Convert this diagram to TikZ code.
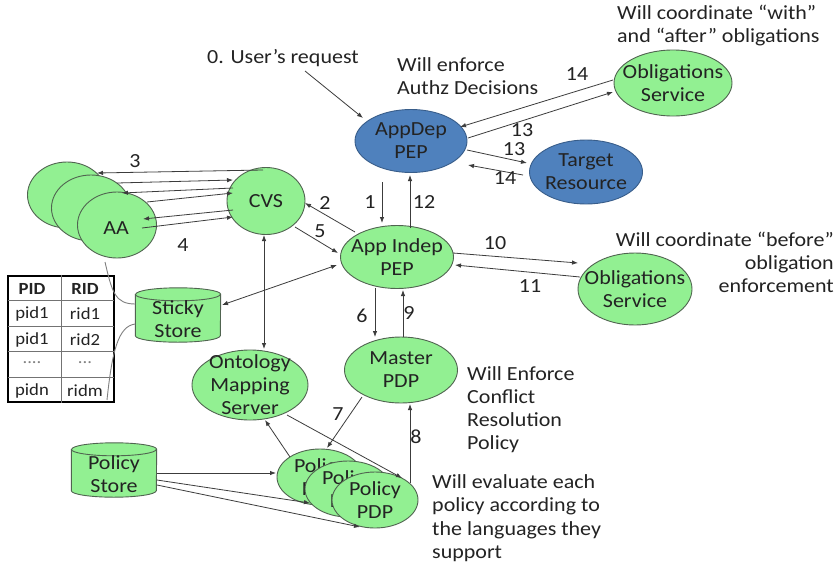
\documentclass[tikz,border=0pt]{standalone}
\usepackage{fontspec}
\setmainfont{Carlito}[FakeStretch=1.1]
\usetikzlibrary{shapes.geometric,arrows.meta,calc}
\definecolor{gfill}{RGB}{146,240,146}
\definecolor{gdraw}{RGB}{80,100,80}
\definecolor{bfill}{RGB}{79,129,189}
\definecolor{bdraw}{RGB}{56,93,138}
\definecolor{lineclr}{RGB}{60,60,60}
\definecolor{txtclr}{RGB}{35,35,35}
\newcommand\drawcyl[1]{%
  \draw[cylst] ($(#1.north west)+(0,6.5)$) -- ($(#1.south west)+(0,-6.5)$)
    arc[start angle=180,end angle=360,x radius=42.5pt,y radius=6.5pt]
    -- ($(#1.north east)+(0,6.5)$)
    arc[start angle=0,end angle=180,x radius=42.5pt,y radius=6.5pt] -- cycle;
  \draw[cylst,fill=none] ($(#1.north west)+(0,6.5)$)
    arc[start angle=180,end angle=360,x radius=42.5pt,y radius=6.5pt];}
\begin{document}
\begin{tikzpicture}[x=1pt,y=-1pt,
  every node/.style={text=txtclr},
  base/.style={font=\fontsize{20}{23}\selectfont},
  gnode/.style={ellipse, fill=gfill, draw=gdraw, line width=0.9pt, inner sep=0pt},
  bnode/.style={ellipse, fill=bfill, draw=bdraw, line width=0.9pt, inner sep=0pt},
  lbl/.style={base, align=center, inner sep=0pt},
  arr/.style={draw=lineclr, line width=0.8pt, -{Latex[length=6pt,width=4.5pt]}},
  darr/.style={draw=lineclr, line width=0.8pt, {Latex[length=6pt,width=4.5pt]}-{Latex[length=6pt,width=4.5pt]}},
  num/.style={base, inner sep=0pt},
  note/.style={base, inner sep=0pt},
  cylst/.style={fill=gfill, draw=gdraw, line width=0.9pt},
  cylbox/.style={inner sep=0pt, minimum width=85pt, minimum height=54pt},
  tline/.style={draw=black!55, line width=0.8pt},
  ttxt/.style={font=\fontsize{17}{20}\selectfont, inner sep=0pt},
  curve/.style={draw=black!50, line width=0.9pt},
]
\useasboundingbox (0,0) rectangle (837,565);
\fill[white] (0,0) rectangle (837,565);

% ---------- AA stack ----------
\node[gnode, minimum width=79pt, minimum height=66pt] (aa3) at (67,195) {};
\node[gnode, minimum width=79pt, minimum height=66pt] (aa2) at (91,208) {};
\node[gnode, minimum width=79pt, minimum height=66pt] (aa) at (117,225) {};
\node[lbl] (aat) at (116,228) {AA};

% ---------- main nodes ----------
\node[gnode, minimum width=78pt, minimum height=67pt] (cvs) at (266,201) {};
\node[lbl] (cvst) at (cvs) {CVS};
\node[bnode, minimum width=112pt, minimum height=63pt] (appdep) at (411,141) {};
\node[lbl] (appdept) at (appdep) {AppDep\\PEP};
\node[bnode, minimum width=113pt, minimum height=64pt] (target) at (586,172) {};
\node[lbl] (targett) at (target) {Target\\Resource};
\node[gnode, minimum width=118pt, minimum height=66pt] (obl1) at (673,83) {};
\node[lbl] (obl1t) at (obl1) {Obligations\\Service};
\node[gnode, minimum width=113pt, minimum height=63pt] (appindep) at (397,257) {};
\node[lbl] (appindept) at (appindep) {App Indep\\PEP};
\node[gnode, minimum width=114pt, minimum height=72pt] (obl2) at (635,289) {};
\node[lbl] (obl2t) at (obl2) {Obligations\\Service};
\node[gnode, minimum width=116pt, minimum height=70pt] (onto) at (250,385) {};
\node[lbl] (ontot) at (onto) {Ontology\\Mapping\\Server};
\node[gnode, minimum width=113pt, minimum height=66pt] (master) at (401,370) {};
\node[lbl] (mastert) at (master) {Master\\PDP};

% ---------- policy PDP stack ----------
\node[gnode, minimum width=86pt, minimum height=56pt] (pdp1) at (320,477) {};
\node[lbl] (pdp1t) at (pdp1) {Policy\\PDP};
\node[gnode, minimum width=86pt, minimum height=56pt] (pdp2) at (348,489) {};
\node[lbl] (pdp2t) at (pdp2) {Policy\\PDP};
\node[gnode, minimum width=86pt, minimum height=56pt] (pdp3) at (375,500) {};
\node[lbl] (pdp3t) at (pdp3) {Policy\\PDP};

% ---------- stores ----------
\node[cylbox] (sticky) at (178,315) {};
\drawcyl{sticky}
\node[lbl] (stickyt) at (178,319) {Sticky\\Store};
\node[cylbox] (pstore) at (114,470) {};
\drawcyl{pstore}
\node[lbl] (pstoret) at (114,474) {Policy\\Store};

% ---------- table ----------
\node[draw=black, line width=2.6pt, minimum width=106pt, minimum height=126pt, inner sep=0pt] (tbl) at (61,339) {};
\draw[tline] (tbl.north) -- (tbl.south);
\foreach \r in {26,51.5,77,102.5}{
  \draw[tline] ($(tbl.north west)+(1,\r)$) -- ($(tbl.north east)+(-1,\r)$);}
\node[ttxt, font=\fontsize{17}{20}\selectfont\bfseries] (h1) at (32,289) {PID};
\node[ttxt, font=\fontsize{17}{20}\selectfont\bfseries] (h2) at (85,289) {RID};
\node[ttxt] (r1a) at (32,314) {pid1};
\node[ttxt] (r1b) at (85,314) {rid1};
\node[ttxt] (r2a) at (32,340) {pid1};
\node[ttxt] (r2b) at (85,340) {rid2};
\node[ttxt, text=black!50] (r3a) at (32,363) {....};
\node[ttxt, text=black!50] (r3b) at (85,363) {...};
\node[ttxt] (r4a) at (32,391) {pidn};
\node[ttxt] (r4b) at (85,391) {ridm};

\coordinate (c1) at (105,262);
\coordinate (c2) at (107,400);
\draw[curve] (c1) .. controls (112,292) and (115,304) .. ($(sticky.west)+(0,-11)$);
\draw[curve] ($(sticky.west)+(0,9)$) .. controls (118,326) and (112,352) .. (c2);

% ---------- AA <-> CVS ----------
\draw[arr] ($(cvs)+(-3,-31)$) -- ($(aa3)+(30,-22)$);
\draw[arr] ($(aa2)+(26,-25)$) -- ($(cvs)+(-33,-21)$);
\draw[arr] ($(cvs)+(-33,-13)$) -- ($(aa2)+(31,-15)$);
\draw[arr] ($(aa)+(30,-23)$) -- ($(cvs)+(-33,-8)$);
\draw[arr] ($(cvs)+(-33,9)$) -- ($(aa)+(26,-6)$);
\draw[arr] ($(aa)+(25,3)$) -- ($(cvs)+(-33,16)$);
\node[num] (n3) at (135,161) {3};
\node[num] (n4) at (183,245) {4};

% ---------- CVS / App Indep ----------
\draw[arr] ($(appindep)+(-42,-25)$) -- ($(cvs)+(39,2)$);
\node[num] (n2) at (325,203) {2};
\draw[arr] ($(cvs)+(29,26)$) -- ($(appindep)+(-59,-4)$);
\node[num] (n5) at (320,231) {5};
\draw[darr] ($(cvs)+(-2,34)$) -- ($(onto)+(14,-36)$);
\draw[darr] ($(appindep)+(-60,8)$) -- ($(sticky)+(44,-10)$);

% ---------- AppDep / App Indep ----------
\coordinate (u0) at (305,71);
\node[note, anchor=west] (req) at (207,58) {0. User’s request};
\draw[arr] (u0) -- ($(appdep)+(-48,-23)$);
\draw[arr] ($(appdep)+(-29,41)$) -- ($(appindep)+(-15,-34)$);
\node[num] (n1) at (370,202) {1};
\draw[arr] ($(appindep)+(13,-29)$) -- ($(appdep)+(-1,34)$);
\node[num] (n12) at (424,202) {12};

% ---------- App Indep / Master ----------
\draw[arr] ($(appindep)+(-22,31)$) -- ($(master)+(-26,-33)$);
\node[num] (n6) at (362,316) {6};
\draw[arr] ($(master)+(2,-33)$) -- ($(appindep)+(6,33)$);
\node[num] (n9) at (409,313) {9};

% ---------- App Indep / Obligations ----------
\draw[arr] ($(appindep)+(56,-4)$) -- ($(obl2)+(-57,-26)$);
\node[num] (n10) at (495,243) {10};
\draw[arr] ($(obl2)+(-55,-12)$) -- ($(appindep)+(58,8)$);
\node[num] (n11) at (530,286) {11};

% ---------- AppDep / Obligations, Target ----------
\draw[arr] ($(obl1)+(-60,-3)$) -- ($(appdep)+(49,-14)$);
\node[num] (n14a) at (577,74) {14};
\draw[arr] ($(appdep)+(57,-3)$) -- ($(obl1)+(-60,9)$);
\node[num] (n13a) at (522,130) {13};
\draw[arr] ($(appdep)+(56,9)$) -- ($(target)+(-59,-9)$);
\node[num] (n13b) at (514,149) {13};
\draw[arr] ($(target)+(-63,3)$) -- ($(appdep)+(57,24)$);
\node[num] (n14b) at (505,178) {14};

% ---------- Master / Policy PDPs / Ontology ----------
\draw[arr] ($(master)+(-39,27)$) -- ($(pdp1)+(7,-29)$);
\node[num] (n7) at (338,414) {7};
\draw[arr] ($(pdp3)+(35,-17)$) -- ($(master)+(9,34)$);
\node[num] (n8) at (416,437) {8};
\draw[arr] ($(pdp1)+(-30,-20)$) -- ($(onto)+(15,35)$);
\draw[arr] ($(onto)+(37,30)$) -- ($(pdp3)+(27,-22)$);

% ---------- Policy Store -> PDPs ----------
\draw[arr] ($(pstore)+(43,3)$) -- ($(pdp1)+(-44,-4)$);
\draw[arr] ($(pstore)+(43,10)$) -- ($(pdp2)+(-38,14)$);
\draw[arr] ($(pstore)+(43,15)$) -- ($(pdp3)+(-15,27)$);

% ---------- notes ----------
\node[note, anchor=west, align=left] (nenf) at (397,76.5) {Will enforce\\Authz Decisions};
\node[note, anchor=west, align=left] (nwith) at (617,25.5) {Will coordinate “with”\\and “after” obligations};
\node[note, anchor=east, align=right] (nbefore) at (834,262) {Will coordinate “before”\\obligation\\enforcement};
\node[note, anchor=west, align=left] (nconf) at (467,410) {Will Enforce\\Conflict\\Resolution\\Policy};
\node[note, anchor=west, align=left, font=\fontsize{20}{23.5}\selectfont] (neval) at (432,518) {Will evaluate each\\policy according to\\the languages they\\support};
\end{tikzpicture}
\end{document}
